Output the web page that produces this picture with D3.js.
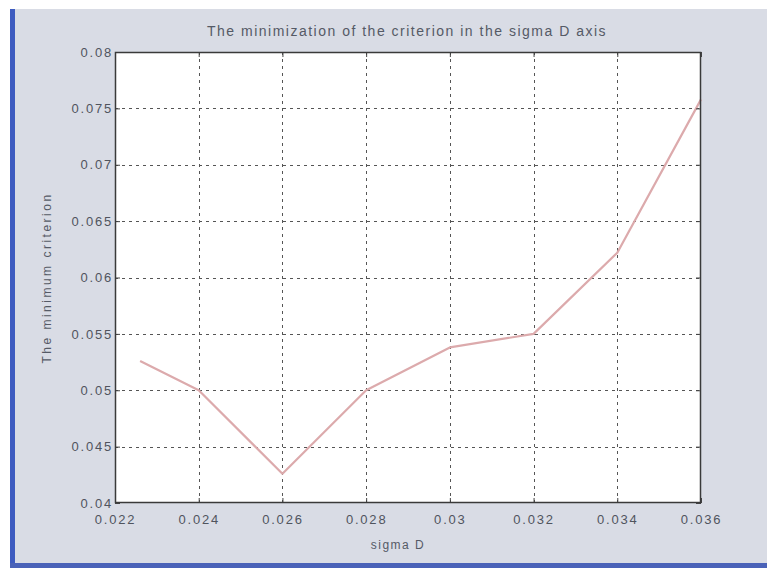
<!DOCTYPE html>
<html>
<head>
<meta charset="utf-8">
<script src="https://cdn.jsdelivr.net/npm/d3@7/dist/d3.min.js"></script>
<style>
  html, body { margin: 0; padding: 0; background: #ffffff; }
  svg { display: block; }
  text { font-family: "Liberation Sans", Arial, sans-serif; fill: #555a66; }
</style>
</head>
<body>
<svg id="chart" width="767" height="568"></svg>
<script>
// sigma D values and the minimum criterion reached at each
const sigmaD = [0.0226, 0.024, 0.026, 0.028, 0.030, 0.032, 0.034, 0.036];
const criterion = [0.0526, 0.0500, 0.0426, 0.0500, 0.0538, 0.0550, 0.0622, 0.0758];

const xTicks = [0.022, 0.024, 0.026, 0.028, 0.030, 0.032, 0.034, 0.036];
const xTickLabels = ["0.022", "0.024", "0.026", "0.028", "0.03", "0.032", "0.034", "0.036"];
const yTicks = [0.04, 0.045, 0.05, 0.055, 0.06, 0.065, 0.07, 0.075, 0.08];
const yTickLabels = ["0.04", "0.045", "0.05", "0.055", "0.06", "0.065", "0.07", "0.075", "0.08"];

const titleText = "The minimization of the criterion in the sigma D axis";
const xLabelText = "sigma D";
const yLabelText = "The minimum criterion";

const svg = d3.select("#chart");

// window frame
svg.append("rect").attr("x", 10).attr("y", 9).attr("width", 757).attr("height", 559).attr("fill", "#d9dce5");
svg.append("rect").attr("x", 10).attr("y", 9).attr("width", 5).attr("height", 559).attr("fill", "#3e5cc0");
svg.append("rect").attr("x", 10).attr("y", 563).attr("width", 757).attr("height", 5).attr("fill", "#4a62b8");

const plot = { left: 115, right: 701, top: 52, bottom: 503 };

const x = d3.scaleLinear().domain([0.022, 0.036]).range([plot.left, plot.right]);
const y = d3.scaleLinear().domain([0.04, 0.08]).range([plot.bottom, plot.top]);

// axes area
svg.append("rect")
  .attr("x", plot.left).attr("y", plot.top)
  .attr("width", plot.right - plot.left).attr("height", plot.bottom - plot.top)
  .attr("fill", "#ffffff");

// dotted grid
const grid = svg.append("g").attr("stroke", "#555").attr("stroke-width", 1).attr("stroke-dasharray", "3,4");
grid.selectAll("line.gx").data(xTicks.slice(1, -1)).join("line")
  .attr("x1", d => Math.round(x(d)) + 0.5).attr("x2", d => Math.round(x(d)) + 0.5)
  .attr("y1", plot.top).attr("y2", plot.bottom);
grid.selectAll("line.gy").data(yTicks.slice(1, -1)).join("line")
  .attr("y1", d => Math.round(y(d)) + 0.5).attr("y2", d => Math.round(y(d)) + 0.5)
  .attr("x1", plot.left).attr("x2", plot.right);

// data line
const line = d3.line().x(d => x(d[0])).y(d => y(d[1]));
svg.append("path")
  .datum(sigmaD.map((s, i) => [s, criterion[i]]))
  .attr("d", line)
  .attr("fill", "none")
  .attr("stroke", "#dcaaac")
  .attr("stroke-width", 2.2)
  .attr("stroke-linejoin", "round");

// axes with inward ticks
const xAxis = d3.axisBottom(x).tickValues(xTicks).tickFormat((d, i) => xTickLabels[i]).tickSizeInner(-5).tickSizeOuter(0).tickPadding(12);
const yAxis = d3.axisLeft(y).tickValues(yTicks).tickFormat((d, i) => yTickLabels[i]).tickSizeInner(-5).tickSizeOuter(0).tickPadding(2);

const gx = svg.append("g").attr("transform", `translate(0,${plot.bottom})`).call(xAxis);
const gy = svg.append("g").attr("transform", `translate(${plot.left},0)`).call(yAxis);
[gx, gy].forEach(g => {
  g.select(".domain").remove();
  g.selectAll(".tick line").attr("stroke", "#444");
  g.selectAll(".tick text").attr("font-size", 13).style("letter-spacing", "1.8px").style("fill", "#50545e");
});

// top / right ticks
const gxTop = svg.append("g").attr("transform", `translate(0,${plot.top})`)
  .call(d3.axisTop(x).tickValues(xTicks).tickFormat("").tickSizeInner(-5).tickSizeOuter(0));
const gyRight = svg.append("g").attr("transform", `translate(${plot.right},0)`)
  .call(d3.axisRight(y).tickValues(yTicks).tickFormat("").tickSizeInner(-5).tickSizeOuter(0));
[gxTop, gyRight].forEach(g => {
  g.select(".domain").remove();
  g.selectAll(".tick line").attr("stroke", "#444");
});

// axes box
svg.append("rect")
  .attr("x", plot.left + 0.5).attr("y", plot.top + 0.5)
  .attr("width", plot.right - plot.left - 1).attr("height", plot.bottom - plot.top - 1)
  .attr("fill", "none").attr("stroke", "#3a3a3a").attr("stroke-width", 1.5);

// labels
svg.append("text").attr("x", 407).attr("y", 36)
  .attr("text-anchor", "middle").attr("font-size", 14).style("letter-spacing", "1.5px").text(titleText);
svg.append("text").attr("x", 398).attr("y", 549)
  .attr("text-anchor", "middle").attr("font-size", 12).style("letter-spacing", "1.5px").text(xLabelText);
svg.append("text")
  .attr("transform", `translate(51,278) rotate(-90)`)
  .attr("text-anchor", "middle").attr("font-size", 12).style("letter-spacing", "2.5px").text(yLabelText);
</script>
</body>
</html>
